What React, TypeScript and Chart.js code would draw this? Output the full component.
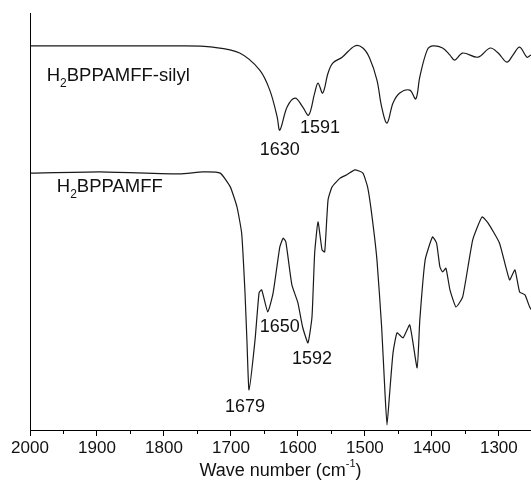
import React, { useEffect, useRef } from "react";
import { Chart, registerables } from "chart.js";

Chart.register(...registerables);

// Wavenumber (cm-1) and relative transmittance (a.u.) of the silylated sample (upper trace)
const WN_SILYL = [2000, 1776, 1727, 1687, 1657, 1642, 1631, 1627, 1616, 1604, 1593, 1584, 1575, 1570, 1563, 1555, 1548, 1534, 1515, 1503, 1493, 1482, 1475, 1467, 1458, 1448, 1433, 1424, 1418, 1407, 1399, 1384, 1373, 1366, 1354, 1331, 1313, 1301, 1288, 1279, 1269, 1258, 1252, 1246];
const T_SILYL = [92.1, 92.1, 91.8, 90.4, 86.3, 81.5, 75.1, 71.9, 77.5, 79.6, 77.5, 75.5, 80.8, 83.2, 80.8, 85.6, 88.0, 89.4, 92.1, 91.6, 89.2, 83.9, 77.5, 73.6, 78.4, 80.8, 81.5, 79.4, 84.7, 91.1, 92.1, 91.6, 89.9, 88.7, 90.4, 89.4, 91.6, 90.4, 88.2, 89.9, 91.8, 89.4, 89.9, 89.9];

// Wavenumber (cm-1) and relative transmittance (a.u.) of H2BPPAMFF (lower trace)
const WN_BPP = [2000, 1896, 1776, 1742, 1716, 1701, 1691, 1684, 1679, 1676, 1673, 1664, 1658, 1654, 1645, 1637, 1627, 1622, 1618, 1609, 1600, 1593, 1585, 1579, 1575, 1570, 1564, 1560, 1555, 1549, 1537, 1527, 1515, 1503, 1496, 1490, 1482, 1475, 1470, 1467, 1463, 1458, 1452, 1443, 1433, 1422, 1418, 1410, 1399, 1393, 1388, 1384, 1379, 1373, 1364, 1354, 1339, 1325, 1316, 1299, 1284, 1276, 1269, 1261, 1254, 1246];
const T_BPP = [61.6, 61.9, 61.4, 61.9, 61.6, 58.3, 53.5, 47.2, 32.9, 20.9, 9.6, 21.6, 32.9, 33.6, 28.3, 32.9, 43.9, 46.0, 45.1, 34.8, 30.5, 24.7, 20.9, 27.1, 42.4, 49.9, 43.2, 42.7, 55.2, 58.3, 60.4, 61.2, 62.4, 61.6, 58.3, 52.0, 40.8, 24.7, 8.9, 1.2, 8.9, 18.5, 23.3, 22.1, 25.2, 14.9, 26.4, 40.8, 46.3, 44.8, 39.1, 37.9, 38.8, 33.6, 29.5, 31.9, 45.6, 51.1, 49.6, 44.8, 36.0, 38.4, 33.1, 32.4, 29.5, 27.6];

const X_MIN = 1252;
const X_MAX = 2000;
const Y_MIN = 0;
const Y_MAX = 100;

const MAJOR_TICKS = [2000, 1900, 1800, 1700, 1600, 1500, 1400, 1300];
const MINOR_TICKS = [1950, 1850, 1750, 1650, 1550, 1450, 1350];

// peak annotations
const PEAK_TEXT = ["1630", "1591", "1679", "1650", "1592"];
const PEAK_WN = [1627, 1567, 1679, 1627, 1579];
const PEAK_T = [67.1, 72.4, 5.5, 24.7, 17.0];

// trace names (H + subscript 2 + rest)
const NAME_MAIN = ["H", "H"];
const NAME_SUB = ["2", "2"];
const NAME_REST = ["BPPAMFF-silyl", "BPPAMFF"];
const NAME_WN = [1975, 1960];
const NAME_T = [84.9, 58.3];

const AXIS_TITLE = "Wave number (cm";
const AXIS_TITLE_SUP = "-1";
const AXIS_TITLE_END = ")";

const FONT = '"Liberation Sans", Arial, Helvetica, sans-serif';

const decorPlugin = {
  id: "decor",
  afterDraw(chart: any) {
    const { ctx, chartArea } = chart;
    const x = chart.scales.x;
    const y = chart.scales.y;
    ctx.save();
    ctx.strokeStyle = "#000";
    ctx.lineWidth = 1;
    ctx.beginPath();
    const lx = Math.round(chartArea.left) + 0.5;
    ctx.moveTo(lx, chartArea.top);
    ctx.lineTo(lx, chartArea.bottom + 1);
    MINOR_TICKS.forEach((v) => {
      const px = Math.round(x.getPixelForValue(v)) + 0.5;
      ctx.moveTo(px, chartArea.bottom);
      ctx.lineTo(px, chartArea.bottom + 4);
    });
    ctx.stroke();

    ctx.fillStyle = "#111";
    ctx.font = `18px ${FONT}`;
    ctx.textAlign = "center";
    ctx.textBaseline = "middle";
    PEAK_TEXT.forEach((t, i) => {
      ctx.fillText(t, x.getPixelForValue(PEAK_WN[i]), y.getPixelForValue(PEAK_T[i]));
    });

    ctx.textAlign = "left";
    NAME_REST.forEach((rest, i) => {
      let px = x.getPixelForValue(NAME_WN[i]);
      const py = y.getPixelForValue(NAME_T[i]);
      ctx.font = `18.5px ${FONT}`;
      ctx.fillText(NAME_MAIN[i], px, py);
      px += ctx.measureText(NAME_MAIN[i]).width;
      ctx.font = `12px ${FONT}`;
      ctx.fillText(NAME_SUB[i], px, py + 8);
      px += ctx.measureText(NAME_SUB[i]).width;
      ctx.font = `18.5px ${FONT}`;
      ctx.fillText(rest, px, py);
    });

    // axis title with superscript
    ctx.font = `18px ${FONT}`;
    const w1 = ctx.measureText(AXIS_TITLE).width;
    const w3 = ctx.measureText(AXIS_TITLE_END).width;
    ctx.font = `11px ${FONT}`;
    const w2 = ctx.measureText(AXIS_TITLE_SUP).width;
    const total = w1 + w2 + w3;
    let tx = (chartArea.left + chartArea.right) / 2 - total / 2;
    const ty = 471;
    ctx.font = `18px ${FONT}`;
    ctx.fillText(AXIS_TITLE, tx, ty);
    tx += w1;
    ctx.font = `11px ${FONT}`;
    ctx.fillText(AXIS_TITLE_SUP, tx, ty - 7);
    tx += w2;
    ctx.font = `18px ${FONT}`;
    ctx.fillText(AXIS_TITLE_END, tx, ty);
    ctx.restore();
  },
};

export default function App() {
  const ref = useRef<HTMLCanvasElement | null>(null);
  useEffect(() => {
    if (!ref.current) return;
    const chart = new Chart(ref.current, {
      type: "line",
      data: {
        datasets: [
          {
            label: "H₂BPPAMFF-silyl",
            data: WN_SILYL.map((w, i) => ({ x: w, y: T_SILYL[i] })),
            borderColor: "#1a1a1a",
            borderWidth: 1.2,
            pointRadius: 0,
            tension: 0.35,
            fill: false,
          },
          {
            label: "H₂BPPAMFF",
            data: WN_BPP.map((w, i) => ({ x: w, y: T_BPP[i] })),
            borderColor: "#1a1a1a",
            borderWidth: 1.2,
            pointRadius: 0,
            tension: 0.15,
            fill: false,
          },
        ],
      },
      options: {
        animation: false,
        responsive: false,
        layout: { padding: { left: 30, top: 13, right: 0, bottom: 0 } },
        plugins: {
          legend: { display: false },
          tooltip: { enabled: false },
          title: { display: false },
        },
        scales: {
          x: {
            type: "linear",
            reverse: true,
            min: X_MIN,
            max: X_MAX,
            afterFit: (scale: any) => {
              scale.height = 60;
            },
            afterBuildTicks: (scale: any) => {
              scale.ticks = MAJOR_TICKS.map((v) => ({ value: v }));
            },
            grid: {
              drawOnChartArea: false,
              drawTicks: true,
              tickLength: 6,
              color: "#000",
              lineWidth: 1,
            },
            border: { display: true, color: "#000", width: 1 },
            ticks: {
              color: "#111",
              font: { family: FONT, size: 17 },
              padding: 2,
              maxRotation: 0,
              autoSkip: false,
              callback: (v: any) => String(v),
            },
          },
          y: {
            display: false,
            min: Y_MIN,
            max: Y_MAX,
          },
        },
      },
      plugins: [decorPlugin],
    });
    return () => chart.destroy();
  }, []);
  return (
    <div style={{ position: "fixed", left: 0, top: 0, width: 531, height: 490, background: "#fff" }}>
      <canvas ref={ref} width={531} height={490} style={{ display: "block" }} />
    </div>
  );
}
